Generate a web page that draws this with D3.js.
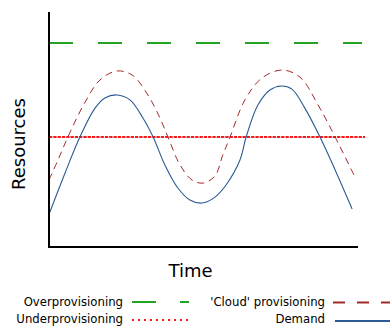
<!DOCTYPE html>
<html>
<head>
<meta charset="utf-8">
<script src="https://cdn.jsdelivr.net/npm/d3@7"></script>
<style>
  body { margin: 0; background: #fff; }
  text { font-family: "DejaVu Sans", sans-serif; fill: #000; }
</style>
</head>
<body>
<div id="graphicContainer"></div>
<script>
// time 0..100, resources 0..100 (arbitrary units)
var demandT = [0.3, 5.2, 10, 14.9, 18.1, 22, 26.2, 30.4, 33.7, 37.5, 41.7, 45.6, 49.5, 53.4, 57.3, 61.8, 63.8, 67.6, 71.5, 75.1, 78.6, 82.8, 87.7, 92.6, 98.1]
var demandV = [14.9, 31.5, 46.8, 59.1, 63.4, 64.7, 62.6, 54.9, 46.8, 34.9, 25.1, 20, 18.7, 20.9, 26.4, 37, 46.8, 60.4, 66.8, 68.5, 67.2, 59.1, 46.8, 32.8, 16.2]
var cloudT = [0, 2.9, 6.1, 11.7, 16.5, 22, 26.9, 32, 35.9, 38.5, 42.4, 46.3, 49.8, 53.7, 56.2, 58.6, 63.4, 68.9, 75.4, 81.2, 87.1, 92.6, 99]
var cloudV = [28.5, 37, 46.8, 61.7, 71.1, 74.9, 73.2, 64.7, 54.9, 46.8, 34.9, 28.5, 27.2, 30.2, 39, 46.8, 62.6, 71.9, 75.3, 72.3, 60.4, 46.8, 29.8]
var overLevel = 86.8
var underLevel = 46.8
var legendItems = ["Overprovisioning", "Underprovisioning", "'Cloud' provisioning", "Demand"]

var width = 390, height = 327
var margin = { top: 12, right: 32, bottom: 80, left: 49 }

var svg = d3.select("#graphicContainer").append("svg")
  .attr("width", width)
  .attr("height", height)

var x = d3.scaleLinear().domain([0, 100]).range([margin.left, width - margin.right])
var y = d3.scaleLinear().domain([0, 100]).range([height - margin.bottom, margin.top])

var line = d3.line()
  .x(function (d) { return x(d[0]) })
  .y(function (d) { return y(d[1]) })
  .curve(d3.curveCatmullRom.alpha(0.5))

// over provisioning
svg.append("line")
  .attr("x1", x(0)).attr("x2", x(101.3))
  .attr("y1", y(overLevel)).attr("y2", y(overLevel))
  .attr("stroke", "#22a322").attr("stroke-width", 2)
  .attr("stroke-dasharray", "24,25")

// under provisioning
svg.append("line")
  .attr("x1", x(0)).attr("x2", x(102.3))
  .attr("y1", y(underLevel)).attr("y2", y(underLevel))
  .attr("stroke", "#f21a1a").attr("stroke-width", 2)
  .attr("stroke-dasharray", "3.3,1")

var cloud = cloudT.map(function (t, i) { return [t, cloudV[i]] })
var demand = demandT.map(function (t, i) { return [t, demandV[i]] })

svg.append("path")
  .datum(cloud)
  .attr("d", line)
  .attr("fill", "none")
  .attr("stroke", "#a52828")
  .attr("stroke-width", 1)
  .attr("stroke-dasharray", "7,5")

svg.append("path")
  .datum(demand)
  .attr("d", line)
  .attr("fill", "none")
  .attr("stroke", "#2c5a94")
  .attr("stroke-width", 1.1)

// axes (no ticks)
svg.append("line")
  .attr("x1", x(0)).attr("x2", x(0))
  .attr("y1", margin.top).attr("y2", y(0) + 1)
  .attr("stroke", "#000").attr("stroke-width", 2)
svg.append("line")
  .attr("x1", x(0) - 1).attr("x2", x(100))
  .attr("y1", y(0)).attr("y2", y(0))
  .attr("stroke", "#000").attr("stroke-width", 2)

svg.append("text")
  .attr("x", 190.5).attr("y", 277)
  .attr("text-anchor", "middle")
  .style("font-size", "18px")
  .text("Time")

svg.append("text")
  .attr("transform", "translate(25," + 144 + ") rotate(-90)")
  .attr("text-anchor", "middle")
  .style("font-size", "18px")
  .text("Resources")

// legend
var legend = svg.append("g").style("font-size", "11.7px")
var lx = [123, 123, 325, 325]
var ly = [305.5, 323, 305.5, 323]
legendItems.forEach(function (d, i) {
  legend.append("text")
    .attr("x", lx[i]).attr("y", ly[i])
    .attr("text-anchor", "end")
    .text(d)
})
legend.append("line")
  .attr("x1", 132).attr("x2", 189).attr("y1", 302).attr("y2", 302)
  .attr("stroke", "#22a322").attr("stroke-width", 2).attr("stroke-dasharray", "24,24")
legend.append("line")
  .attr("x1", 132).attr("x2", 188).attr("y1", 320).attr("y2", 320)
  .attr("stroke", "#f21a1a").attr("stroke-width", 2).attr("stroke-dasharray", "2,4")
legend.append("line")
  .attr("x1", 333).attr("x2", 390).attr("y1", 302.5).attr("y2", 302.5)
  .attr("stroke", "#a52828").attr("stroke-width", 2).attr("stroke-dasharray", "12,12")
legend.append("line")
  .attr("x1", 335).attr("x2", 390).attr("y1", 321).attr("y2", 321)
  .attr("stroke", "#2c5a94").attr("stroke-width", 2)
</script>
</body>
</html>
